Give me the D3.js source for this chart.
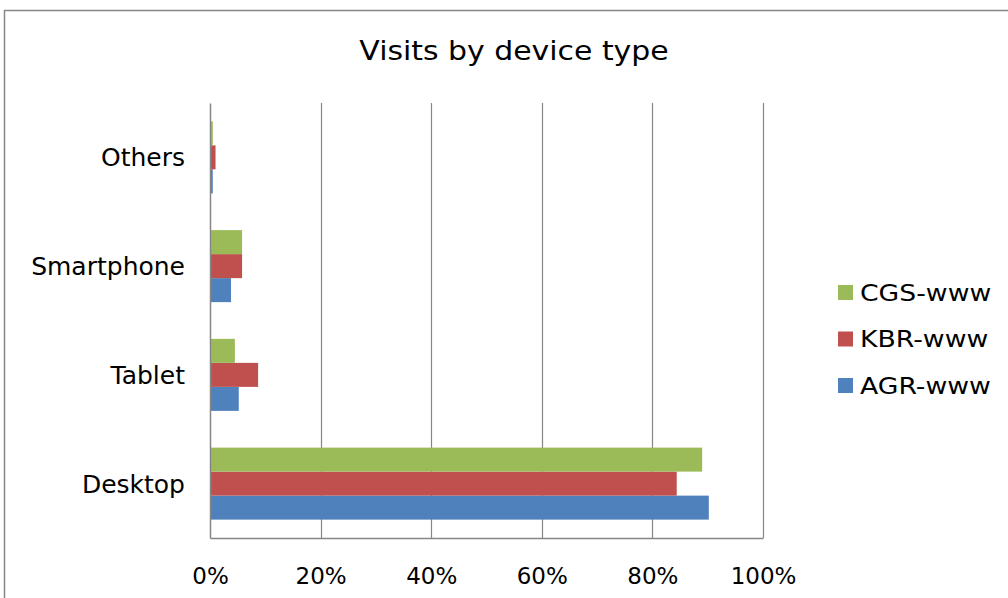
<!DOCTYPE html>
<html>
<head>
<meta charset="utf-8">
<script src="https://cdn.jsdelivr.net/npm/d3@7/dist/d3.min.js"></script>
<style>
  html, body { margin: 0; padding: 0; background: #fff; }
  svg { display: block; }
  text { font-family: "DejaVu Sans", sans-serif; fill: #000; }
</style>
</head>
<body>
<svg id="chart" width="1008" height="598"></svg>
<script>
// Device categories, bottom to top
const categories = ["Desktop", "Tablet", "Smartphone", "Others"];
// Share of visits per site (fraction of total)
const seriesNames = ["AGR-www", "KBR-www", "CGS-www"];
const agrValues = [0.902, 0.052, 0.038, 0.005];
const kbrValues = [0.844, 0.087, 0.058, 0.010];
const cgsValues = [0.890, 0.045, 0.058, 0.005];
const seriesColors = ["#4F81BD", "#C0504D", "#9BBB59"];
const tickValues = [0, 0.2, 0.4, 0.6, 0.8, 1.0];

const series = [agrValues, kbrValues, cgsValues].map((vals, i) => ({
  name: seriesNames[i], color: seriesColors[i], values: vals
}));

const svg = d3.select("#chart");
const W = 1008, H = 598;

// outer chart frame (runs off right and bottom edges)
svg.append("rect")
  .attr("x", 4.5).attr("y", 10.5)
  .attr("width", W + 10).attr("height", H + 10)
  .attr("fill", "none").attr("stroke", "#868686").attr("stroke-width", 1.5);

// title, widened slightly for a rounder geometric look
svg.append("text")
  .attr("transform", "translate(514,60) scale(1.15,1)")
  .attr("text-anchor", "middle")
  .style("font-size", "26px")
  .text("Visits by device type");

const plot = { left: 210, right: 763, top: 103, bottom: 538 };

const x = d3.scaleLinear().domain([0, 1]).range([plot.left, plot.right]);
// categories laid out bottom-to-top
const y = d3.scaleBand()
  .domain(categories.slice().reverse())
  .range([plot.top, plot.bottom])
  .paddingInner(0).paddingOuter(0);

// vertical gridlines
svg.append("g").selectAll("line")
  .data(tickValues.slice(1))
  .join("line")
  .attr("x1", d => Math.round(x(d)) + 0.5).attr("x2", d => Math.round(x(d)) + 0.5)
  .attr("y1", plot.top).attr("y2", plot.bottom)
  .attr("stroke", "#868686").attr("stroke-width", 1.2);

// bars: within each band, series stacked top-to-bottom as CGS, KBR, AGR
const groupHeight = y.bandwidth() * 72 / 108.75;
const inner = d3.scaleBand()
  .domain(seriesNames.slice().reverse())
  .range([0, groupHeight]);

const groups = svg.append("g").selectAll("g")
  .data(series)
  .join("g")
  .attr("fill", d => d.color);

groups.selectAll("rect")
  .data(d => d.values.map((v, i) => ({ v, cat: categories[i], name: d.name })))
  .join("rect")
  .attr("x", x(0))
  .attr("y", d => y(d.cat) + (y.bandwidth() - groupHeight) / 2 + inner(d.name))
  .attr("width", d => x(d.v) - x(0))
  .attr("height", inner.bandwidth());

// x axis (bottom line + percent labels)
const xAxis = d3.axisBottom(x)
  .tickValues(tickValues)
  .tickFormat(d3.format(".0%"))
  .tickSize(0)
  .tickPadding(0);

const gx = svg.append("g")
  .attr("transform", `translate(0,${plot.bottom})`)
  .call(xAxis);
gx.select(".domain").attr("stroke", "#868686").attr("stroke-width", 1.5);
gx.selectAll("text")
  .attr("y", 46).attr("dy", null)
  .style("font-size", "23px")
  .style("font-family", "'DejaVu Sans', sans-serif");

// y axis (left line + category labels)
const yAxis = d3.axisLeft(y).tickSize(0).tickPadding(25);
const gy = svg.append("g")
  .attr("transform", `translate(${plot.left},0)`)
  .call(yAxis);
gy.select(".domain").attr("stroke", "#868686").attr("stroke-width", 1.5);
gy.selectAll("text")
  .attr("dy", "0.36em")
  .style("font-size", "25px")
  .style("font-family", "'DejaVu Sans', sans-serif");

// legend, top to bottom: CGS, KBR, AGR
const legendItems = series.slice().reverse();
const legend = svg.append("g").selectAll("g")
  .data(legendItems)
  .join("g")
  .attr("transform", (d, i) => `translate(838,${292.5 + i * 46.5})`);
legend.append("rect")
  .attr("x", 0).attr("y", -7.5)
  .attr("width", 15).attr("height", 15)
  .attr("fill", d => d.color);
legend.append("text")
  .attr("transform", "translate(22,0) scale(1.16,1)")
  .attr("dy", "0.36em")
  .style("font-size", "23px")
  .text(d => d.name);
</script>
</body>
</html>
